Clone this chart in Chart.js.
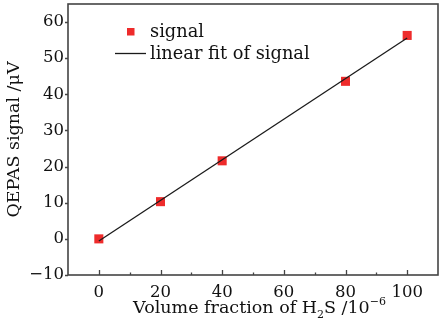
<!DOCTYPE html>
<html>
<head>
<meta charset="utf-8">
<script src="https://cdn.jsdelivr.net/npm/chart.js@4.4.1/dist/chart.umd.min.js"></script>
<style>
  html, body { margin: 0; padding: 0; background: #fff; }
</style>
</head>
<body>
<canvas id="chart" width="439" height="327"></canvas>
<script>
const concentration = [0, 20, 40, 80, 100];
const signal = [0.0, 10.3, 21.6, 43.6, 56.3];
const fitX = [0, 100];
const fitY = [-0.6, 55.6];
const xTicks = [0, 20, 40, 60, 80, 100];
const xMinorTicks = [10, 30, 50, 70, 90];
const yTicks = [-10, 0, 10, 20, 30, 40, 50, 60];

const SERIF = "'DejaVu Serif', 'Liberation Serif', serif";
const AXIS_COLOR = "#444";
const TEXT_COLOR = "#111";
const RED = "#ee2b2b";

// box around the plot + ticks (x ticks point inward, y ticks outward)
const framePlugin = {
  id: "frame",
  afterDraw(chart) {
    const { ctx, chartArea: a, scales } = chart;
    ctx.save();
    ctx.strokeStyle = AXIS_COLOR;
    ctx.lineWidth = 1.6;
    ctx.strokeRect(a.left, a.top, a.right - a.left, a.bottom - a.top);

    ctx.lineWidth = 1.3;
    ctx.beginPath();
    xTicks.forEach((v) => {
      const px = Math.round(scales.x.getPixelForValue(v)) + 0.5;
      ctx.moveTo(px, a.bottom);
      ctx.lineTo(px, a.bottom - 5);
    });
    xMinorTicks.forEach((v) => {
      const px = Math.round(scales.x.getPixelForValue(v)) + 0.5;
      ctx.moveTo(px, a.bottom);
      ctx.lineTo(px, a.bottom - 2.5);
    });
    yTicks.forEach((v) => {
      const py = Math.round(scales.y.getPixelForValue(v)) + 0.5;
      ctx.moveTo(a.left, py);
      ctx.lineTo(a.left - 3, py);
    });
    ctx.stroke();
    ctx.restore();
  },
};

// legend drawn inside the plot, top-left
const legendPlugin = {
  id: "innerLegend",
  afterDatasetsDraw(chart) {
    const { ctx } = chart;
    const ds = chart.data.datasets;
    ctx.save();
    ctx.font = `17.8px ${SERIF}`;
    ctx.textBaseline = "alphabetic";

    ctx.fillStyle = RED;
    ctx.fillRect(127, 28, 7.5, 7.5);
    ctx.fillStyle = TEXT_COLOR;
    ctx.fillText(ds[1].label, 150, 37);

    ctx.strokeStyle = "#1a1a1a";
    ctx.lineWidth = 1.3;
    ctx.beginPath();
    ctx.moveTo(115, 53.5);
    ctx.lineTo(146, 53.5);
    ctx.stroke();
    ctx.fillText(ds[0].label, 150, 59);
    ctx.restore();
  },
};

// x axis title with subscript and superscript
const xTitlePlugin = {
  id: "xTitle",
  afterDraw(chart) {
    const { ctx } = chart;
    const big = `17.5px ${SERIF}`;
    const small = `11px ${SERIF}`;
    const parts = [
      { t: "Volume fraction of H", f: big, dy: 0 },
      { t: "2", f: small, dy: 5 },
      { t: "S /10", f: big, dy: 0 },
      { t: "\u22126", f: small, dy: -8 },
    ];
    ctx.save();
    ctx.fillStyle = TEXT_COLOR;
    ctx.textBaseline = "alphabetic";
    let total = 0;
    parts.forEach((p) => {
      ctx.font = p.f;
      p.w = ctx.measureText(p.t).width;
      total += p.w;
    });
    let x = 259.5 - total / 2;
    const base = 313;
    parts.forEach((p) => {
      ctx.font = p.f;
      ctx.fillText(p.t, x, base + p.dy);
      x += p.w;
    });
    ctx.restore();
  },
};

function noEdgePadding(s) {
  s.paddingTop = 0;
  s.paddingBottom = 0;
  s.paddingLeft = 0;
  s.paddingRight = 0;
}

new Chart(document.getElementById("chart"), {
  type: "scatter",
  data: {
    datasets: [
      {
        label: "linear fit of signal",
        data: fitX.map((x, i) => ({ x, y: fitY[i] })),
        showLine: true,
        borderColor: "#1a1a1a",
        borderWidth: 1.3,
        pointRadius: 0,
        order: 0,
      },
      {
        label: "signal",
        data: concentration.map((x, i) => ({ x, y: signal[i] })),
        showLine: false,
        pointStyle: "rect",
        pointRadius: 6.4,
        backgroundColor: RED,
        borderWidth: 0,
        order: 1,
      },
    ],
  },
  options: {
    responsive: false,
    animation: false,
    layout: { autoPadding: false, padding: { top: 4, right: 1, left: 0, bottom: 0 } },
    plugins: {
      legend: { display: false },
      tooltip: { enabled: false },
    },
    scales: {
      x: {
        type: "linear",
        min: -10,
        max: 110,
        afterBuildTicks: (s) => { s.ticks = xTicks.map((v) => ({ value: v })); },
        afterFit: (s) => { s.height = 52; noEdgePadding(s); },
        grid: { display: false, drawTicks: false },
        border: { display: false },
        ticks: { font: { family: SERIF, size: 16.5 }, color: TEXT_COLOR, padding: 8, maxRotation: 0 },
      },
      y: {
        type: "linear",
        min: -10,
        max: 65,
        afterBuildTicks: (s) => { s.ticks = yTicks.map((v) => ({ value: v })); },
        afterFit: (s) => { s.width = 68; noEdgePadding(s); },
        grid: { display: false, drawTicks: false },
        border: { display: false },
        ticks: {
          font: { family: SERIF, size: 16.5 },
          color: TEXT_COLOR,
          padding: 4,
          callback: (v) => String(v).replace("-", "\u2212"),
        },
        title: {
          display: true,
          text: "QEPAS signal /\u03bcV",
          font: { family: SERIF, size: 17.5 },
          color: TEXT_COLOR,
          padding: { top: 4, bottom: 0 },
        },
      },
    },
  },
  plugins: [framePlugin, legendPlugin, xTitlePlugin],
});
</script>
</body>
</html>
